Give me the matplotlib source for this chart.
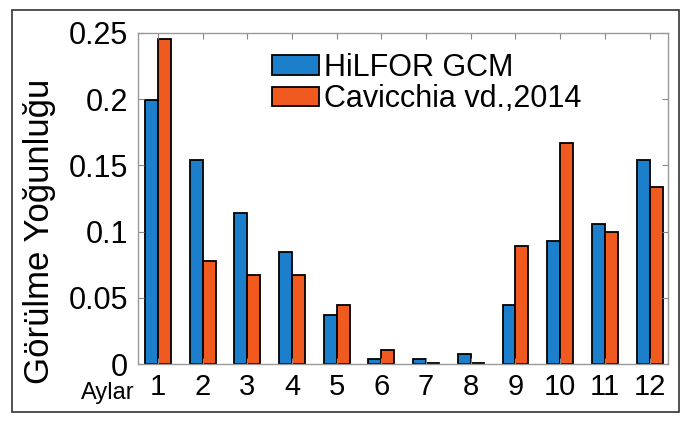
import numpy as np
import matplotlib.pyplot as plt
from matplotlib.patches import Rectangle

plt.rcParams['font.family'] = ['Liberation Sans', 'DejaVu Sans']

months = list(range(1, 13))
hilfor = [0.199, 0.154, 0.114, 0.085, 0.037, 0.004, 0.004, 0.008, 0.045, 0.093, 0.106, 0.154]
cavicchia = [0.245, 0.078, 0.067, 0.067, 0.045, 0.011, 0.0006, 0.0006, 0.089, 0.167, 0.100, 0.134]
labels = ["HiLFOR GCM", "Cavicchia vd.,2014"]

fig = plt.figure(figsize=(6.89, 4.26), dpi=100)
ax = fig.add_axes([0.200, 0.145, 0.770, 0.778])

x = np.array(months)
w = 0.29
ax.bar(x - w / 2, hilfor, w, color="#1b7fcc", edgecolor="black", linewidth=1.3, label=labels[0])
ax.bar(x + w / 2, cavicchia, w, color="#f05a1f", edgecolor="black", linewidth=1.3, label=labels[1])

ax.set_xlim(0.55, 12.42)
ax.set_ylim(0, 0.25)
ax.set_xticks(months)
ax.set_xticklabels([str(m) for m in months])
ax.set_yticks([0, 0.05, 0.1, 0.15, 0.2, 0.25])
ax.set_yticklabels(["0", "0.05", "0.1", "0.15", "0.2", "0.25"])
ax.tick_params(direction="in", top=True, right=True, length=4, color="#888888",
               labelsize=22, pad=7)
ax.tick_params(axis="x", labelsize=21, pad=6)
for s in ax.spines.values():
    s.set_color("#999999")
    s.set_linewidth(1.0)

ax.set_ylabel("Görülme Yoğunluğu", fontsize=25)
ax.yaxis.set_label_coords(-0.155, 0.40)
fig.text(0.118, 0.077, "Aylar", fontsize=17, ha="left", va="center")

ax.legend(loc="upper left", bbox_to_anchor=(0.215, 1.0), frameon=False, fontsize=22,
          handlelength=1.55, handleheight=0.6, handletextpad=0.15, labelspacing=0.05,
          borderaxespad=0.25)

fig.patches.append(Rectangle((0.018, 0.033), 0.968, 0.944, transform=fig.transFigure,
                             fill=False, edgecolor="#333333", linewidth=1.2))

fig.savefig("out.png", dpi=100)
